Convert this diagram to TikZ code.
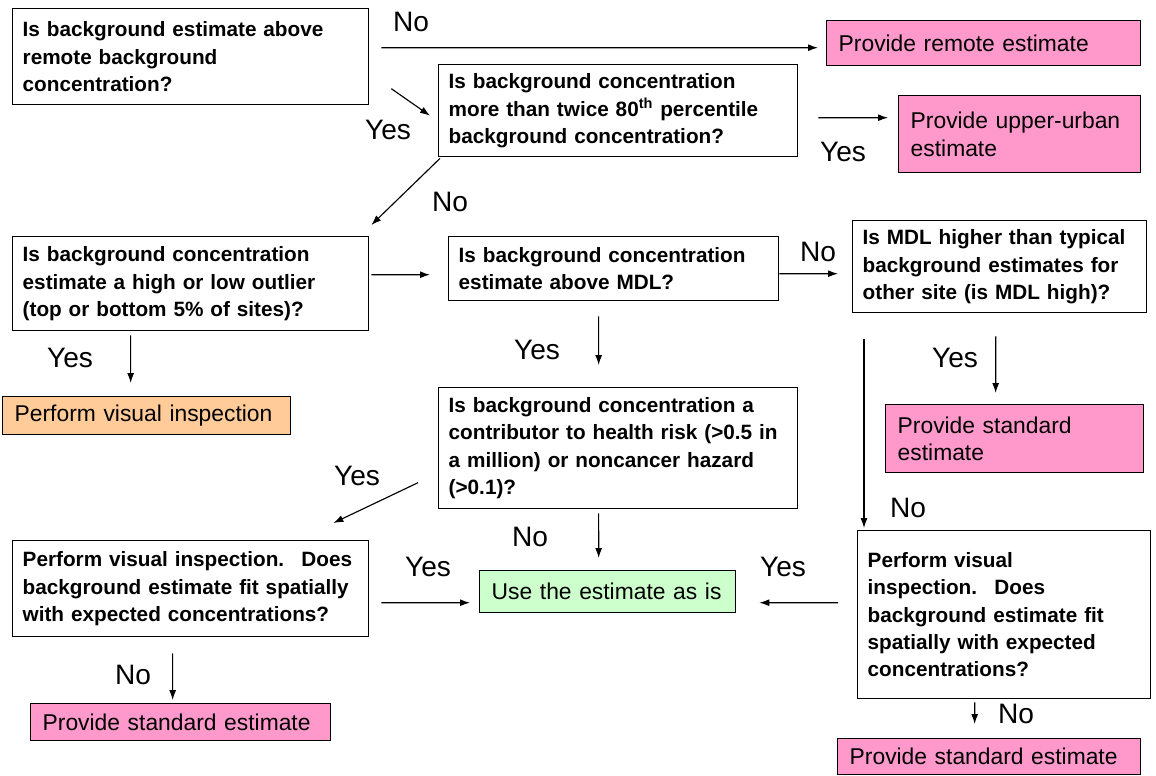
\documentclass[tikz,border=0pt]{standalone}
\usepackage{fontspec}
\setmainfont{Liberation Sans}
\usetikzlibrary{arrows.meta}
\definecolor{pinkbox}{RGB}{255,153,204}
\definecolor{orangebox}{RGB}{255,204,153}
\definecolor{greenbox}{RGB}{204,255,204}
\begin{document}
\begin{tikzpicture}[x=0.02cm,y=-0.02cm,
qbox/.style={draw,line width=0.8pt,fill=white,align=left,anchor=north west,inner xsep=0.2cm,inner ysep=0.1cm,font=\fontsize{11.8}{15.6}\selectfont\bfseries},
endbox/.style={draw,line width=0.8pt,align=left,anchor=north west,inner xsep=0.24cm,inner ysep=0.1cm,font=\fontsize{13}{15.6}\selectfont},
lbl/.style={font=\fontsize{16}{18}\selectfont},
arr/.style={-{Latex[length=0.2cm,width=0.14cm]},line width=0.65pt}]
\useasboundingbox (0,0) rectangle (1156,775);

\node[qbox,text width=6.72cm,minimum height=1.92cm] (q1) at (12,8) {Is background estimate above\\remote background\\concentration?};
\node[qbox,text width=6.78cm,minimum height=1.84cm] (q2) at (438,64) {Is background concentration\\more than twice 80\textsuperscript{th} percentile\\background concentration?};
\node[qbox,text width=6.72cm,minimum height=1.88cm] (q3) at (12,236) {Is background concentration\\estimate a high or low outlier\\(top or bottom 5\% of sites)?};
\node[qbox,text width=6.2cm,minimum height=1.28cm] (q4) at (448,236) {Is background concentration\\estimate above MDL?};
\node[qbox,text width=5.48cm,minimum height=1.84cm] (q5) at (852,220) {Is MDL higher than typical\\background estimates for\\other site (is MDL high)?};
\node[qbox,text width=6.78cm,minimum height=2.42cm] (q6) at (438,387) {Is background concentration a\\contributor to health risk (>0.5 in\\a million) or noncancer hazard\\(>0.1)?};
\node[qbox,text width=6.72cm,minimum height=1.92cm] (q7) at (12,540) {Perform visual inspection.~ Does\\background estimate fit spatially\\with expected concentrations?};
\node[qbox,text width=5.46cm,minimum height=3.36cm] (q8) at (857,530) {Perform visual\\inspection.~ Does\\background estimate fit\\spatially with expected\\concentrations?};

\node[endbox,fill=pinkbox,text width=5.8cm,minimum height=0.9cm] (remote) at (826,20) {Provide remote estimate};
\node[endbox,fill=pinkbox,text width=4.36cm,minimum height=1.54cm] (urban) at (898,95) {Provide upper-urban\\estimate};
\node[endbox,fill=orangebox,text width=5.28cm,minimum height=0.76cm] (visual) at (2,396) {Perform visual inspection};
\node[endbox,fill=pinkbox,text width=4.68cm,minimum height=1.36cm] (std1) at (885,404) {Provide standard\\estimate};
\node[endbox,fill=greenbox,text width=4.64cm,minimum height=0.84cm] (use) at (479,570) {Use the estimate as is};
\node[endbox,fill=pinkbox,text width=5.52cm,minimum height=0.74cm] (std2) at (30,703) {Provide standard estimate};
\node[endbox,fill=pinkbox,text width=5.58cm,minimum height=0.72cm] (std3) at (837,738) {Provide standard estimate};

\draw[arr] ([shift={(12,-9)}]q1.east) -- ([shift={(-8,4.5)}]remote.west);
\draw[arr] ([shift={(22,32)}]q1.east) -- ([shift={(-8,5)}]q2.west);
\draw[arr] ([shift={(20,7)}]q2.east) -- ([shift={(-10,-16.5)}]urban.west);
\draw[arr] ([shift={(2,1)}]q2.south west) -- ([shift={(2,-11)}]q3.north east);
\draw[arr] ([shift={(2,-9)}]q3.east) -- ([shift={(-18,6)}]q4.west);
\draw[arr] ([shift={(0,5)}]q4.east) -- ([shift={(-14,7)}]q5.west);
\draw[arr] ([shift={(-60,4)}]q3.south) -- ([shift={(-16,-13)}]visual.north);
\draw[arr] ([shift={(-15,15)}]q4.south) -- ([shift={(-19.5,-22)}]q6.north);
\draw[arr] ([shift={(-4,23)}]q5.south) -- ([shift={(-19,-11)}]std1.north);
\draw[arr] ([shift={(12,26)}]q5.south west) -- ([shift={(7,-2)}]q8.north west);
\draw[arr] ([shift={(-20,34.5)}]q6.west) -- ([shift={(-36,-17)}]q7.north east);
\draw[arr] ([shift={(-19.5,4)}]q6.south) -- ([shift={(-9,-12)}]use.north);
\draw[arr] ([shift={(12,14)}]q7.east) -- ([shift={(-9,11)}]use.west);
\draw[arr] ([shift={(-19,-12)}]q8.west) -- ([shift={(23,11)}]use.east);
\draw[arr] ([shift={(-18,16)}]q7.south) -- ([shift={(-8,-3)}]std2.north);
\draw[arr] ([shift={(-29.5,3)}]q8.south) -- ([shift={(-14.5,-14)}]std3.north);

\node[lbl] (no1) at (411,22) {No};
\node[lbl] (yes1) at (388,130) {Yes};
\node[lbl] (yes2) at (843,152) {Yes};
\node[lbl] (no2) at (450,202) {No};
\node[lbl] (no3) at (818,252) {No};
\node[lbl] (yes3) at (70,358) {Yes};
\node[lbl] (yes4) at (537,350) {Yes};
\node[lbl] (yes5) at (955,358) {Yes};
\node[lbl] (no4) at (908,508) {No};
\node[lbl] (yes6) at (357,476) {Yes};
\node[lbl] (no5) at (530,537) {No};
\node[lbl] (yes7) at (428,567) {Yes};
\node[lbl] (yes8) at (783,567) {Yes};
\node[lbl] (no6) at (133,675) {No};
\node[lbl] (no7) at (1016,714) {No};
\end{tikzpicture}
\end{document}
